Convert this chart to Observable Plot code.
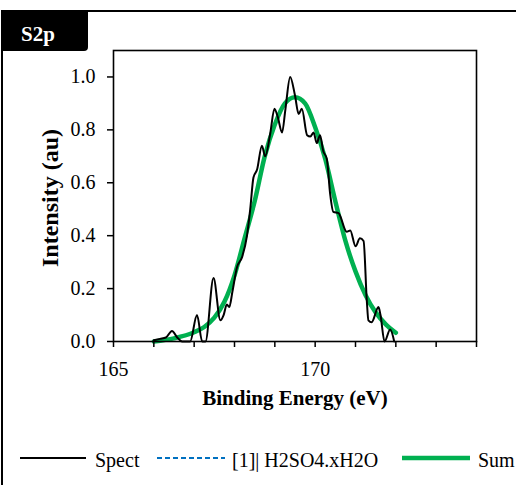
<!DOCTYPE html>
<html><head><meta charset="utf-8">
<script src="https://cdn.jsdelivr.net/npm/d3@7"></script>
<script src="https://cdn.jsdelivr.net/npm/@observablehq/plot@0.6"></script>
<style>
body{margin:0;background:#fff;font-family:"Liberation Serif","Times New Roman",serif;}
#wrap{position:relative;width:516px;height:485px;overflow:hidden;background:#fff;}
#border{position:absolute;left:1px;top:10px;width:700px;height:700px;border-left:2px solid #000;border-top:2px solid #000;}
#tag{position:absolute;left:1px;top:10px;width:87px;height:41px;background:#000;border-bottom-right-radius:4px;}
#tagtxt{position:absolute;left:21px;top:24px;color:#fff;font-weight:bold;font-size:21px;line-height:21px;white-space:nowrap;}
#chart{position:absolute;left:0;top:0;}
#chart svg, #chart svg text{font-family:"Liberation Serif","Times New Roman",serif !important;font-variant:normal !important;}
.lg{position:absolute;top:450px;font-size:20px;line-height:20px;white-space:nowrap;color:#000;}
.sw{position:absolute;top:453px;}
</style>
</head><body>
<div id="wrap">
  <div id="border"></div>
  <div id="tag"></div>
  <div id="tagtxt">S2p</div>
  <div id="chart"></div>
  <svg class="sw" style="left:20px" width="66" height="10"><line x1="0" x2="66" y1="5" y2="5" stroke="#000" stroke-width="1.8"/></svg>
  <div class="lg" style="left:95px">Spect</div>
  <svg class="sw" style="left:157px" width="68" height="10"><line x1="0" x2="68" y1="5" y2="5" stroke="#0070C0" stroke-width="2" stroke-dasharray="5,3"/></svg>
  <div class="lg" style="left:232px">[1]| H2SO4.xH2O</div>
  <svg class="sw" style="left:402px" width="68" height="10"><line x1="0" x2="68" y1="5" y2="5" stroke="#00B050" stroke-width="4.5"/></svg>
  <div class="lg" style="left:478px">Sum</div>
</div>
<script>
// Spectrum (black, noisy)
const spectE = [166.0,166.15,166.3,166.45,166.58,166.7,166.9,167.07,167.2,167.28,167.48,167.65,167.73,167.81,167.87,167.95,168.06,168.19,168.31,168.39,168.47,168.56,168.68,168.76,168.89,168.99,169.07,169.18,169.26,169.38,169.5,169.59,169.67,169.8,169.88,169.96,170.04,170.12,170.2,170.29,170.37,170.45,170.58,170.78,170.87,171.0,171.11,171.2,171.28,171.32,171.4,171.57,171.62,171.72,171.86,171.96];
const spectI = [0.005,0.01,0.015,0.04,0.015,0.0,0.0,0.10,0.0,0.0,0.24,0.08,0.10,0.14,0.13,0.19,0.28,0.32,0.40,0.50,0.62,0.65,0.74,0.70,0.79,0.88,0.85,0.79,0.875,1.0,0.93,0.86,0.88,0.78,0.775,0.79,0.75,0.78,0.72,0.69,0.56,0.49,0.485,0.415,0.42,0.36,0.39,0.38,0.155,0.08,0.073,0.13,0.10,0.0,0.045,0.0];
// Sum envelope (green)
const sumE = [166.0,166.5,167.0,167.25,167.5,167.75,168.0,168.25,168.5,168.75,169.0,169.25,169.5,169.75,170.0,170.25,170.5,170.75,171.0,171.25,171.5,171.75,172.0];
const sumI = [0.0,0.012,0.035,0.055,0.09,0.15,0.25,0.39,0.53,0.70,0.82,0.90,0.923,0.90,0.81,0.69,0.53,0.38,0.265,0.175,0.11,0.065,0.033];
const xTicks = [165,166,167,168,169,170,171,172,173,174];
const xTickLabels = {165:"165",170:"170"};
const yTicks = [0,0.2,0.4,0.6,0.8,1.0];
const xTitle = "Binding Energy (eV)";
const yTitle = "Intensity (au)";

const spect = spectE.map((e,i)=>({e, v: spectI[i]}));
const sum = sumE.map((e,i)=>({e, v: sumI[i]}));
const serif = "Liberation Serif, Times New Roman, serif";

const chart = Plot.plot({
  width: 516, height: 420,
  marginLeft: 113, marginRight: 40, marginTop: 50, marginBottom: 79,
  x: {domain: [165, 174]},
  y: {domain: [0, 1.1]},
  style: {fontFamily: serif, fontSize: "20px", color: "#000", background: "transparent", overflow: "visible"},
  marks: [
    Plot.line(sum, {x: "e", y: "v", stroke: "#00B050", strokeWidth: 4.5, curve: "monotone-x"}),
    Plot.line(spect, {x: "e", y: "v", stroke: "#000", strokeWidth: 2, curve: "monotone-x"}),
    Plot.frame({stroke: "#000", strokeWidth: 1.6}),
    Plot.axisX({ticks: xTicks, tickSize: 6, tickPadding: 14, strokeWidth: 1.5, fontSize: 20, fontFamily: serif, tickFormat: d => xTickLabels[d] ?? "", label: null}),
    Plot.axisY({ticks: yTicks, tickSize: 6, tickPadding: 12, strokeWidth: 1.5, fontSize: 20, fontFamily: serif, tickFormat: d => d.toFixed(1), label: null}),
    Plot.text([xTitle], {text: d => d, frameAnchor: "bottom", dy: 57, fontWeight: "bold", fontSize: 21, fontFamily: serif, textAnchor: "middle", lineAnchor: "middle"}),
    Plot.text([yTitle], {text: d => d, frameAnchor: "left", rotate: -90, dx: -63, dy: 2, fontWeight: "bold", fontSize: 24, fontFamily: serif, textAnchor: "middle", lineAnchor: "middle"})
  ]
});
document.getElementById("chart").appendChild(chart);
</script>
</body></html>
